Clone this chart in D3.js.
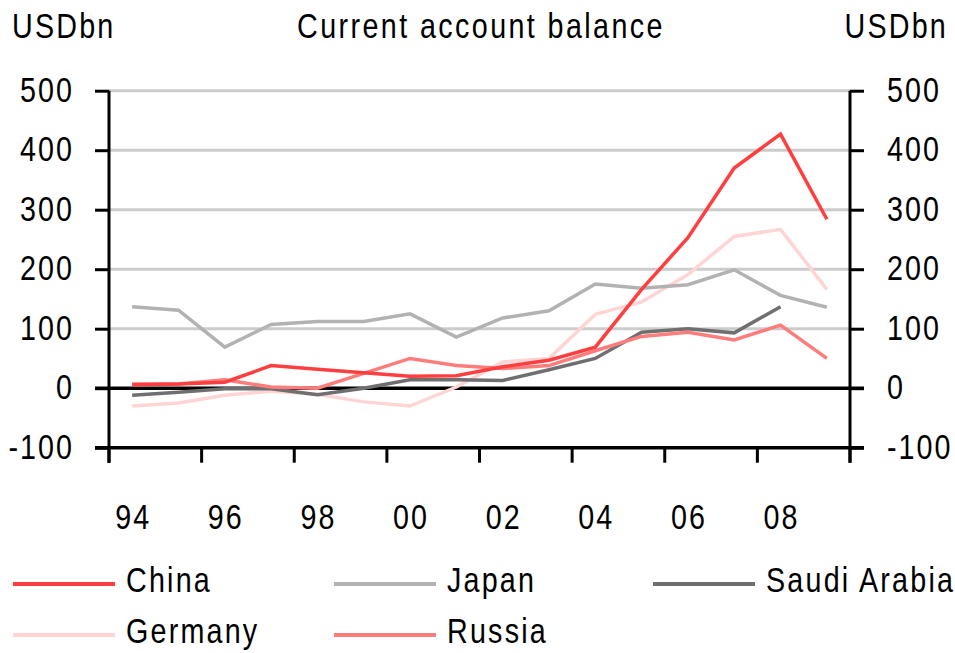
<!DOCTYPE html>
<html>
<head>
<meta charset="utf-8">
<script src="https://cdn.jsdelivr.net/npm/d3@7"></script>
<style>
  body { margin: 0; background: #fff; }
  svg { display: block; }
  text { font-family: "Liberation Sans", Arial, sans-serif; fill: #000; }
</style>
</head>
<body>
<svg id="chart" width="955" height="653"></svg>
<script>
// ---- data ----
const years = ["94","95","96","97","98","99","00","01","02","03","04","05","06","07","08","09"];
const xTickLabels = ["94","96","98","00","02","04","06","08"];
const yTicks = [-100, 0, 100, 200, 300, 400, 500];
const china   = [6, 7, 10, 38, 32, 26, 20, 21, 36, 47, 69, 166, 253, 370, 427, 284];
const japan   = [137, 131, 69, 107, 112, 112, 125, 86, 118, 130, 175, 168, 174, 199, 156, 136];
const saudi   = [-12, -7, -1, -1, -11, 0, 14, 14, 13, 31, 50, 94, 100, 93, 137, null];
const germany = [-30, -25, -12, -5, -10, -23, -30, 2, 44, 50, 124, 145, 191, 255, 267, 166];
const russia  = [7, 7, 14, 2, 0, 25, 50, 38, 33, 38, 63, 87, 94, 81, 106, 50];
const seriesNames = ["China", "Japan", "Saudi Arabia", "Germany", "Russia"];
const seriesColors = ["#ff3f3f", "#b2b2b2", "#6f6f6f", "#ffd4d4", "#ff7c7c"];

const seriesValues = [china, japan, saudi, germany, russia];
const series = seriesNames.map((n, i) => ({ name: n, color: seriesColors[i], values: seriesValues[i] }));

const svg = d3.select("#chart");
const L = 109, R = 850, T = 90.7, B = 447.7;
const SX = 0.82;      // horizontal compression to mimic a narrow face
const FS = 35;

function ntext(parent, px, py, str, anchor, ls) {
  return parent.append("text")
    .attr("transform", `translate(${px},${py}) scale(${SX},1)`)
    .attr("text-anchor", anchor || "start")
    .attr("font-size", FS)
    .attr("letter-spacing", (ls || 0) / SX)
    .text(str);
}

const x = d3.scaleBand().domain(years).range([L, R]).padding(0);
const y = d3.scaleLinear().domain([-100, 500]).range([B, T]);

// gridlines
svg.append("g").selectAll("line")
  .data(yTicks.filter(v => v > 0))
  .join("line")
  .attr("x1", L).attr("x2", R)
  .attr("y1", d => y(d)).attr("y2", d => y(d))
  .attr("stroke", "#cccccc").attr("stroke-width", 3);

// y axes (ticks from d3 axes, labels drawn narrow)
const leftAxis = svg.append("g").attr("transform", `translate(${L},0)`)
  .call(d3.axisLeft(y).tickValues(yTicks).tickSize(14).tickFormat(""));
const rightAxis = svg.append("g").attr("transform", `translate(${R},0)`)
  .call(d3.axisRight(y).tickValues(yTicks).tickSize(14).tickFormat(""));
[leftAxis, rightAxis].forEach(g => {
  g.select(".domain").remove();
  g.selectAll(".tick line").attr("stroke", "#000").attr("stroke-width", 3);
});
const yl = svg.append("g");
yTicks.forEach(v => {
  ntext(yl, 74, y(v) + 11, String(v), "end", 2);
  ntext(yl, 887, y(v) + 11, String(v), "start", 2);
});

// vertical axis lines
[L, R].forEach(px => {
  svg.append("line").attr("x1", px).attr("x2", px).attr("y1", T).attr("y2", B + 15)
    .attr("stroke", "#000").attr("stroke-width", 3);
});

// zero line and bottom line
[0, -100].forEach(v => {
  svg.append("line").attr("x1", L - 14).attr("x2", R + 14)
    .attr("y1", y(v)).attr("y2", y(v))
    .attr("stroke", "#000").attr("stroke-width", 3.5);
});

// x ticks at band boundaries every 2 years
const tickPos = years.filter((d, i) => i % 2 === 0).map(d => x(d)).concat([R]);
svg.append("g").selectAll("line").data(tickPos).join("line")
  .attr("x1", d => d).attr("x2", d => d)
  .attr("y1", B).attr("y2", B + 15)
  .attr("stroke", "#000").attr("stroke-width", 3);

// x labels
const xl = svg.append("g");
xTickLabels.forEach(d => {
  ntext(xl, x(d) + x.bandwidth() / 2 + 1, 529, d, "middle", 2);
});

// lines
const line = d3.line()
  .defined(d => d.v !== null)
  .x(d => x(d.year) + x.bandwidth() / 2)
  .y(d => y(d.v));

const drawOrder = ["Germany", "Japan", "Saudi Arabia", "Russia", "China"];
drawOrder.forEach(name => {
  const s = series.find(t => t.name === name);
  svg.append("path")
    .datum(years.map((yr, i) => ({ year: yr, v: s.values[i] })))
    .attr("fill", "none")
    .attr("stroke", s.color)
    .attr("stroke-width", 3.5)
    .attr("stroke-linejoin", "miter")
    .attr("d", line);
});

// titles
ntext(svg, 12, 38, "USDbn", "start", 2.2);
ntext(svg, 948, 38, "USDbn", "end", 2.2);
ntext(svg, 481, 38, "Current account balance", "middle", 2.4);

// legend
const legendPos = [
  { lx: 13, ly: 584 }, { lx: 334, ly: 584 }, { lx: 653, ly: 584 },
  { lx: 13, ly: 635 }, { lx: 334, ly: 635 }
];
series.forEach((s, i) => {
  const p = legendPos[i];
  svg.append("line").attr("x1", p.lx).attr("x2", p.lx + 102)
    .attr("y1", p.ly).attr("y2", p.ly)
    .attr("stroke", s.color).attr("stroke-width", 4);
  ntext(svg, p.lx + 113, p.ly + 7.5, s.name, "start", 2.2);
});
</script>
</body>
</html>
